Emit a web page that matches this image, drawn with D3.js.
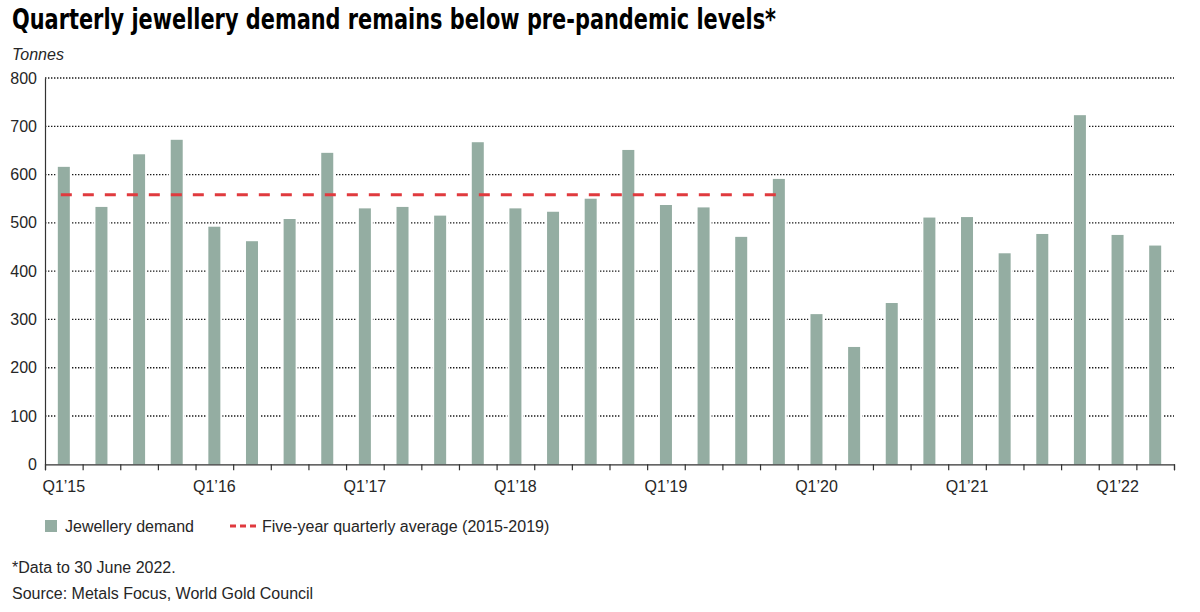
<!DOCTYPE html>
<html><head><meta charset="utf-8">
<script src="https://cdn.jsdelivr.net/npm/d3@7"></script>
<style>body{margin:0;background:#fff}svg{display:block}</style>
</head><body>
<svg id="chart" width="1200" height="612"></svg>
<script>
const quarters = ["Q1’15","Q2’15","Q3’15","Q4’15","Q1’16","Q2’16","Q3’16","Q4’16",
  "Q1’17","Q2’17","Q3’17","Q4’17","Q1’18","Q2’18","Q3’18","Q4’18",
  "Q1’19","Q2’19","Q3’19","Q4’19","Q1’20","Q2’20","Q3’20","Q4’20",
  "Q1’21","Q2’21","Q3’21","Q4’21","Q1’22","Q2’22"];
const demand = [616,533,642,672,492,462,508,645,530,533,515,667,530,523,550,651,
  537,532,471,591,311,243,334,511,512,437,477,723,475,453];
const averageValue = 558;
const averageQuarters = ["Q1’15","Q4’19"];
const yTicks = [0,100,200,300,400,500,600,700,800];
const xTickLabels = ["Q1’15","Q1’16","Q1’17","Q1’18","Q1’19","Q1’20","Q1’21","Q1’22"];
const titleText = "Quarterly jewellery demand remains below pre-pandemic levels*";
const unitText = "Tonnes";
const legendLabels = ["Jewellery demand","Five-year quarterly average (2015-2019)"];
const footnotes = ["*Data to 30 June 2022.","Source: Metals Focus, World Gold Council"];

const barColor = "#94ada2", avgColor = "#e03a3e", textColor = "#262626";
const font = "'Liberation Sans', Arial, sans-serif";
const fs = 16;
const svg = d3.select("#chart");
const plotLeft = 45, plotRight = 1174, plotBottom = 464.3, plotTop = 78;

const x = d3.scaleBand().domain(quarters).range([plotLeft, plotRight]).padding(0);
const y = d3.scaleLinear().domain([0, 800]).range([plotBottom, plotTop]);
const bw = x.bandwidth(), barW = 12;

// title
const title = svg.append("text").attr("x", 12).attr("y", 29)
  .attr("font-family", "'Liberation Sans Narrow', 'DejaVu Sans Condensed', 'Liberation Sans', sans-serif")
  .attr("font-weight", "bold").attr("font-size", 28).attr("fill", "#000").text(titleText);
const tl = title.node().getComputedTextLength();
if (Math.abs(tl - 764) > 8) title.attr("textLength", 764).attr("lengthAdjust", "spacingAndGlyphs");

svg.append("text").attr("x", 12).attr("y", 60).attr("font-family", font).attr("font-style", "italic")
  .attr("font-size", fs).attr("fill", textColor).text(unitText);

// gridlines
svg.append("g").selectAll("line").data(yTicks.filter(d => d > 0)).join("line")
  .attr("x1", plotLeft).attr("x2", plotRight).attr("y1", d => y(d)).attr("y2", d => y(d))
  .attr("stroke", "#1a1a1a").attr("stroke-width", 1.3).attr("stroke-dasharray", "1.4,1.6");

// bars with white halo
const bars = svg.append("g");
bars.selectAll("rect.halo").data(demand).join("rect").attr("class", "halo")
  .attr("x", (d, i) => x(quarters[i]) + (bw - barW) / 2 - 2).attr("width", barW + 4)
  .attr("y", d => y(d) - 1).attr("height", d => plotBottom - y(d) + 1).attr("fill", "#fff");
bars.selectAll("rect.bar").data(demand).join("rect").attr("class", "bar")
  .attr("x", (d, i) => x(quarters[i]) + (bw - barW) / 2).attr("width", barW)
  .attr("y", d => y(d)).attr("height", d => plotBottom - y(d)).attr("fill", barColor);

// average line
svg.append("line")
  .attr("x1", x(averageQuarters[0]) + bw / 2 - 3).attr("x2", x(averageQuarters[1]) + bw / 2 + 1)
  .attr("y1", y(averageValue)).attr("y2", y(averageValue))
  .attr("stroke", avgColor).attr("stroke-width", 3).attr("stroke-dasharray", "11,11");

// y axis
const yAxis = svg.append("g").attr("transform", `translate(${plotLeft},0)`)
  .call(d3.axisLeft(y).tickValues(yTicks).tickSize(0).tickPadding(8));
yAxis.select(".domain").attr("stroke", "#333").attr("stroke-width", 1.2);
yAxis.selectAll("text").attr("font-family", font).attr("font-size", fs).attr("fill", textColor);

// x axis boundary ticks
const xi = d3.scaleLinear().domain([0, quarters.length]).range([plotLeft, plotRight]);
const xTicks = svg.append("g").attr("transform", `translate(0,${plotBottom})`)
  .call(d3.axisBottom(xi).tickValues(d3.range(quarters.length + 1)).tickFormat("").tickSize(6));
xTicks.selectAll("line").attr("stroke", "#333").attr("stroke-width", 1.2);
xTicks.select(".domain").attr("stroke", "#333").attr("stroke-width", 1.2);

// x labels
const xLab = svg.append("g").attr("transform", `translate(0,${plotBottom})`)
  .call(d3.axisBottom(x).tickValues(xTickLabels).tickSize(0).tickPadding(16));
xLab.select(".domain").remove();
xLab.selectAll("text").attr("font-family", font).attr("font-size", fs).attr("fill", textColor);

// legend
const lg = svg.append("g");
lg.append("rect").attr("x", 45).attr("y", 520).attr("width", 12).attr("height", 12).attr("fill", barColor);
lg.append("text").attr("x", 65).attr("y", 532).attr("font-family", font).attr("font-size", fs)
  .attr("fill", textColor).text(legendLabels[0]);
lg.append("line").attr("x1", 230).attr("x2", 256).attr("y1", 526).attr("y2", 526)
  .attr("stroke", avgColor).attr("stroke-width", 3).attr("stroke-dasharray", "6,4");
lg.append("text").attr("x", 262).attr("y", 532).attr("font-family", font).attr("font-size", fs)
  .attr("fill", textColor).text(legendLabels[1]);

// footnotes
svg.append("g").selectAll("text").data(footnotes).join("text")
  .attr("x", 12).attr("y", (d, i) => 573 + i * 26).attr("font-family", font).attr("font-size", fs)
  .attr("fill", textColor).text(d => d);
</script>
</body></html>
